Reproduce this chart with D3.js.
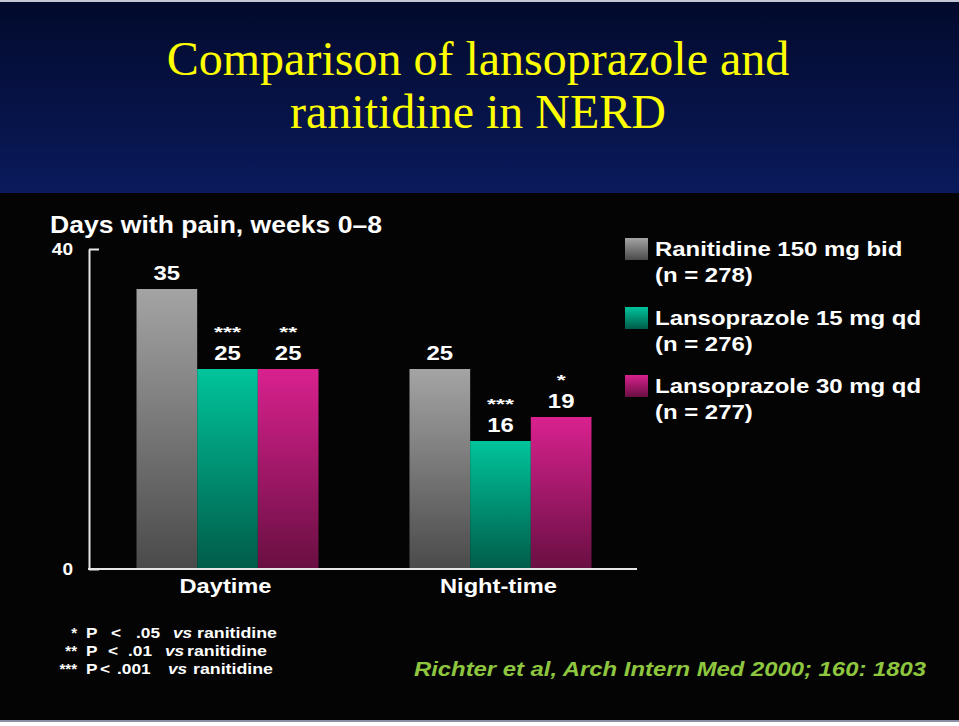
<!DOCTYPE html>
<html>
<head>
<meta charset="utf-8">
<script src="https://cdn.jsdelivr.net/npm/d3@7/dist/d3.min.js"></script>
<style>
  html, body { margin: 0; padding: 0; background: #ffffff; }
  svg { display: block; }
  .sans { font-family: "Liberation Sans", Arial, Helvetica, sans-serif; font-weight: bold; }
  .serif { font-family: "Liberation Serif", "Times New Roman", serif; }
</style>
</head>
<body>
<svg id="chart" width="959" height="726"></svg>
<script>
// ---------------- data ----------------
const titleLines = ["Comparison of lansoprazole and", "ranitidine in NERD"];
const yTitle = "Days with pain, weeks 0\u20138";
const categories = ["Daytime", "Night-time"];
const seriesNames = ["Ranitidine 150 mg bid", "Lansoprazole 15 mg qd", "Lansoprazole 30 mg qd"];
const seriesN = ["(n = 278)", "(n = 276)", "(n = 277)"];
const ranitidine = [35, 25];
const lanso15 = [25, 16];
const lanso30 = [25, 19];
const sigRanitidine = ["", ""];
const sigLanso15 = ["***", "***"];
const sigLanso30 = ["**", "*"];
const yTicks = [0, 40];
const footStars = ["*", "**", "***"];
const footP = [".05", ".01", ".001"];
const footVs = "vs";
const footRef = "ranitidine";
const citation = "Richter et al, Arch Intern Med 2000; 160: 1803";

const seriesValues = [ranitidine, lanso15, lanso30];
const seriesSig = [sigRanitidine, sigLanso15, sigLanso30];

// ---------------- drawing ----------------
const W = 959, H = 726;
const svg = d3.select("#chart");
const defs = svg.append("defs");

function stretch(sel, k) {
  sel.each(function () {
    const w = this.getComputedTextLength();
    this.setAttribute("textLength", (w * k).toFixed(1));
    this.setAttribute("lengthAdjust", "spacingAndGlyphs");
  });
}
function fitTo(sel, width) {
  sel.attr("textLength", width).attr("lengthAdjust", "spacingAndGlyphs");
}

// background gradients
const navy = defs.append("linearGradient").attr("id", "navy")
  .attr("x1", 0).attr("y1", 0).attr("x2", 0).attr("y2", 1);
navy.append("stop").attr("offset", 0).attr("stop-color", "#020a2c");
navy.append("stop").attr("offset", 1).attr("stop-color", "#0a1a5c");

const barColors = [["#a4a4a4", "#4a4a4a"], ["#00c49c", "#005c49"], ["#d9218e", "#690f42"]];
barColors.forEach((c, i) => {
  const g = defs.append("linearGradient").attr("id", "bar" + i)
    .attr("x1", 0).attr("y1", 0).attr("x2", 0).attr("y2", 1);
  g.append("stop").attr("offset", 0).attr("stop-color", c[0]);
  g.append("stop").attr("offset", 1).attr("stop-color", c[1]);
});

// page frame
svg.append("rect").attr("x", 0).attr("y", 0).attr("width", W).attr("height", H).attr("fill", "#ffffff");
svg.append("rect").attr("x", 0).attr("y", 0).attr("width", W).attr("height", 2).attr("fill", "#c4c8d4");
svg.append("rect").attr("x", 0).attr("y", 2).attr("width", W).attr("height", 191).attr("fill", "url(#navy)");
svg.append("rect").attr("x", 0).attr("y", 193).attr("width", W).attr("height", 527).attr("fill", "#040404");
svg.append("rect").attr("x", 0).attr("y", 720).attr("width", W).attr("height", 2).attr("fill", "#8a90a4");

// title
svg.append("g").selectAll("text").data(titleLines).join("text")
  .attr("class", "serif")
  .attr("x", 478)
  .attr("y", (d, i) => 75 + i * 53)
  .attr("text-anchor", "middle")
  .attr("font-size", 48)
  .attr("fill", "#ffff00")
  .text(d => d);

// scales
const y = d3.scaleLinear().domain([0, 40]).range([569, 249]);
const x0 = d3.scaleBand().domain(categories).range([88, 640])
  .paddingInner(1 / 3).paddingOuter(0.1777);
const x1 = d3.scaleBand().domain(d3.range(seriesNames.length)).range([0, x0.bandwidth()]).padding(0);

// y title
const yt = svg.append("text").attr("class", "sans")
  .attr("x", 50).attr("y", 233).attr("font-size", 24).attr("fill", "#ffffff")
  .text(yTitle);
fitTo(yt, 332);

// bars
const groups = svg.append("g").selectAll("g").data(categories).join("g")
  .attr("transform", d => `translate(${x0(d)},0)`);

groups.each(function (cat, ci) {
  const g = d3.select(this);
  seriesNames.forEach((s, si) => {
    const v = seriesValues[si][ci];
    g.append("rect")
      .attr("x", x1(si))
      .attr("y", y(v))
      .attr("width", x1.bandwidth())
      .attr("height", y(0) - y(v))
      .attr("fill", `url(#bar${si})`);
    const lbl = g.append("text").attr("class", "sans")
      .attr("x", x1(si) + x1.bandwidth() / 2)
      .attr("y", y(v) - 9)
      .attr("text-anchor", "middle")
      .attr("font-size", 21)
      .attr("fill", "#ffffff")
      .text(v);
    stretch(lbl, 1.14);
    const sig = seriesSig[si][ci];
    if (sig) {
      const st = g.append("text").attr("class", "sans")
        .attr("x", x1(si) + x1.bandwidth() / 2)
        .attr("y", y(v) - 9 - 23)
        .attr("text-anchor", "middle")
        .attr("font-size", 14)
        .attr("fill", "#ffffff")
        .text(sig);
      fitTo(st, 9 * sig.length);
    }
  });
});

// y axis
const yAxis = d3.axisLeft(y).tickValues(yTicks).tickSizeInner(-10).tickSizeOuter(0).tickPadding(16);
const ya = svg.append("g").attr("transform", "translate(89,0)").call(yAxis);
ya.select(".domain").attr("stroke", "#e6e6e6").attr("stroke-width", 2);
ya.selectAll(".tick line").attr("stroke", "#e6e6e6").attr("stroke-width", 2);
ya.selectAll(".tick text").attr("class", "sans").attr("font-size", 17).attr("fill", "#ffffff")
  .attr("font-family", "Liberation Sans, Arial, sans-serif").attr("font-weight", "bold");
stretch(ya.selectAll(".tick text"), 1.12);

// baseline (x axis)
svg.append("line").attr("x1", 88).attr("x2", 637).attr("y1", y(0)).attr("y2", y(0))
  .attr("stroke", "#e6e6e6").attr("stroke-width", 2);

// category labels
const catWidths = [92, 117];
svg.append("g").selectAll("text").data(categories).join("text")
  .attr("class", "sans")
  .attr("x", d => x0(d) + x0.bandwidth() / 2 - 2)
  .attr("y", 593)
  .attr("text-anchor", "middle")
  .attr("font-size", 21)
  .attr("fill", "#ffffff")
  .text(d => d)
  .each(function (d, i) { fitTo(d3.select(this), catWidths[i]); });

// legend
const legendTop = [238, 307, 375];
const leg = svg.append("g").selectAll("g").data(seriesNames).join("g")
  .attr("transform", (d, i) => `translate(625,${legendTop[i]})`);
leg.append("rect").attr("width", 23).attr("height", 22).attr("fill", (d, i) => `url(#bar${i})`);
leg.append("text").attr("class", "sans")
  .attr("x", 30).attr("y", 18).attr("font-size", 21).attr("fill", "#ffffff")
  .text(d => d)
  .call(s => stretch(s, 1.14));
leg.append("text").attr("class", "sans")
  .attr("x", 30).attr("y", 44).attr("font-size", 21).attr("fill", "#ffffff")
  .text((d, i) => seriesN[i])
  .call(s => stretch(s, 1.14));

// footnotes
const footY = [638, 656, 674];
const footLt = [111, 108, 100];
const footVal = [136, 128, 117];
const footVsX = [173, 165, 168];
const footRefX = [197, 187, 193];
const fn = svg.append("g").attr("class", "sans").attr("font-size", 15).attr("fill", "#ffffff");
footStars.forEach((s, i) => {
  fn.append("text").attr("x", 77).attr("y", footY[i]).attr("text-anchor", "end").text(s);
  fn.append("text").attr("x", 86).attr("y", footY[i]).text("P").call(t => stretch(t, 1.15));
  fn.append("text").attr("x", footLt[i]).attr("y", footY[i]).text("<").call(t => stretch(t, 1.15));
  fn.append("text").attr("x", footVal[i]).attr("y", footY[i]).text(footP[i]).call(t => stretch(t, 1.15));
  fn.append("text").attr("x", footVsX[i]).attr("y", footY[i]).attr("font-style", "italic").text(footVs).call(t => stretch(t, 1.15));
  fn.append("text").attr("x", footRefX[i]).attr("y", footY[i]).text(footRef).call(t => fitTo(t, 80));
});

// citation
const cit = svg.append("text").attr("class", "sans")
  .attr("x", 414).attr("y", 676)
  .attr("font-size", 21).attr("font-style", "italic")
  .attr("fill", "#8ec63f")
  .text(citation);
fitTo(cit, 512);
</script>
</body>
</html>
